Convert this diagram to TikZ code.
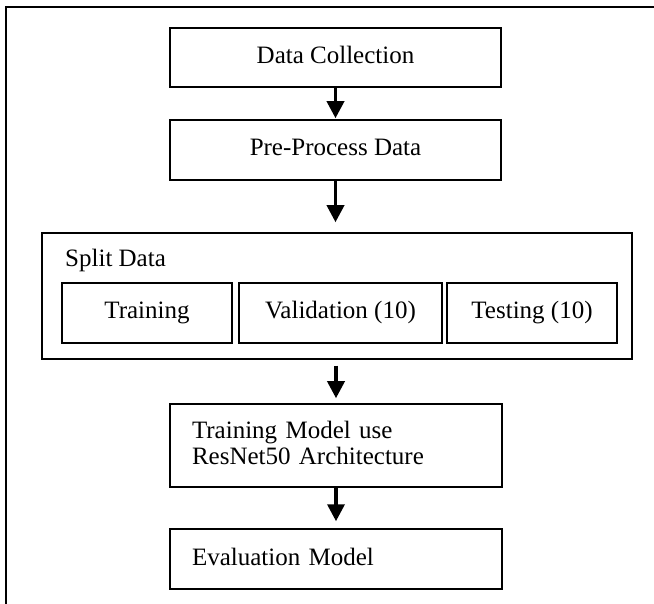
\documentclass[tikz,border=0pt]{standalone}
\usepackage{fontspec}
\setmainfont{Liberation Serif}
\usetikzlibrary{arrows.meta}
\begin{document}
\begin{tikzpicture}[x=1pt,y=-1pt,
  box/.style={draw, line width=1.5pt, inner sep=0pt, text height=17pt, text depth=5pt,
    font=\fontsize{25}{27}\selectfont},
  wide/.style={box, minimum width=331pt, minimum height=59pt},
  leftbox/.style={wide, text width=287pt, align=left},
  lbl/.style={inner sep=0pt, font=\fontsize{25}{27}\selectfont},
  flow/.style={line width=3.5pt, -{Triangle[length=17pt,width=17pt]}}]
\useasboundingbox (0,0) rectangle (654,604);
\draw[line width=2.2pt] (654,7) -- (6,7) -- (6,604);

\node[wide] (dc) at (335.5,57.5) {Data Collection};
\node[wide, minimum height=60pt] (pp) at (335.5,150) {Pre-Process Data};

\node[draw, line width=1.5pt, minimum width=590pt, minimum height=126pt, inner sep=0pt] (split) at (337,296) {};
\node[lbl, anchor=base west] (sl) at (65,267) {Split Data};
\node[box, minimum width=170pt, minimum height=60pt] (tr) at (147,313) {Training};
\node[box, minimum width=203pt, minimum height=60pt] (va) at (340.5,313) {Validation (10)};
\node[box, minimum width=170pt, minimum height=60pt] (te) at (532,313) {Testing (10)};

\node[leftbox, minimum width=332pt, minimum height=83pt, text width=288pt, text depth=32pt] (tm) at (336,445.5) {Training Model use\\ResNet50 Architecture};
\node[leftbox, minimum width=332pt, minimum height=60pt, text width=288pt] (ev) at (336,559) {Evaluation Model};

\draw[flow, shorten >=1pt] (dc.south) -- (pp.north);
\draw[flow, shorten >=10pt] (pp.south) -- (pp.south |- split.north);
\draw[flow, shorten <=6pt, shorten >=5pt] (split.south -| tm.north) -- (tm.north);
\draw[flow, shorten >=7pt] (tm.south) -- (ev.north);
\end{tikzpicture}
\end{document}
